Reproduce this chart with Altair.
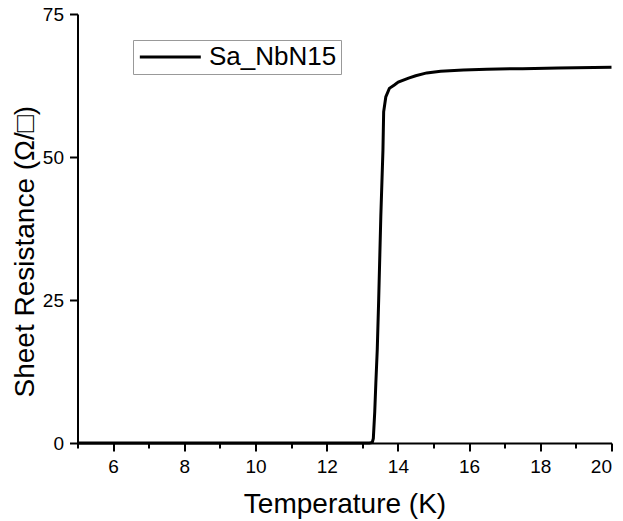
import altair as alt
import pandas as pd

series_name = "Sa_NbN15"
temperature = [5.0, 7.0, 9.0, 11.0, 12.5, 13.2, 13.28, 13.31, 13.35, 13.38, 13.42, 13.46,
               13.52, 13.58, 13.60, 13.66, 13.76, 13.90, 14.01, 14.30, 14.50, 14.81,
               15.20, 15.84, 16.50, 17.50, 18.50, 19.50, 20.0]
resistance = [0.0, 0.0, 0.0, 0.0, 0.0, 0.0, 0.1, 0.8, 5.5, 10.4, 16.3, 25.0,
              39.6, 51.2, 57.9, 60.5, 62.0, 62.6, 63.1, 63.8, 64.2, 64.7,
              65.0, 65.2, 65.35, 65.45, 65.55, 65.65, 65.7]
x_ticks = list(range(5, 21))
y_ticks = [0, 25, 50, 75]

df = pd.DataFrame({"T": temperature, "R": resistance, "series": series_name})

FONT = "Liberation Sans"

chart = alt.Chart(df).mark_line(strokeWidth=3, color="black").encode(
    x=alt.X("T:Q",
            scale=alt.Scale(domain=[5, 20], nice=False, zero=False),
            axis=alt.Axis(
                title="Temperature (K)",
                values=x_ticks,
                labelExpr="datum.value % 2 === 0 ? datum.label : ''",
                tickSize={"condition": {"test": "datum.value % 2 === 0", "value": 8}, "value": 5},
                labelPadding=6,
                labelFontSize=19,
                titleFontSize=28,
                titleFontWeight="normal",
                titleX=267, titleY=69,
                titleBaseline="alphabetic",
                titleAlign="center",
                grid=False,
            )),
    y=alt.Y("R:Q",
            scale=alt.Scale(domain=[0, 75], nice=False),
            axis=alt.Axis(
                title="Sheet Resistance (Ω/□)",
                values=y_ticks,
                tickSize=8,
                labelPadding=6,
                labelFontSize=19,
                titleFontSize=28,
                titleFontWeight="normal",
                titleAngle=-90,
                titleX=-44, titleY=383,
                titleAlign="left",
                titleBaseline="alphabetic",
                grid=False,
            )),
    color=alt.Color("series:N",
                    scale=alt.Scale(domain=[series_name], range=["black"]),
                    legend=alt.Legend(
                        title=None,
                        orient="none",
                        legendX=55.5, legendY=26,
                        symbolType="M-1,0L5,0",
                        symbolSize=413,
                        symbolStrokeWidth=3,
                        labelFontSize=26,
                        labelFont=FONT,
                        labelOffset=46,
                        padding=4,
                        strokeColor="#999999",
                        fillColor="white",
                    )),
).properties(
    width=534, height=429,
    background="white",
    autosize=alt.AutoSizeParams(type="none"),
    padding={"left": 77.5, "top": 14, "right": 11.5, "bottom": 78},
).configure_axis(
    domainColor="black", domainWidth=2,
    tickColor="black", tickWidth=2,
    labelColor="black", titleColor="black",
    labelFont=FONT, titleFont=FONT,
).configure_view(stroke=None)

chart.save("out.html", embed_options={"renderer": "svg", "actions": False})
